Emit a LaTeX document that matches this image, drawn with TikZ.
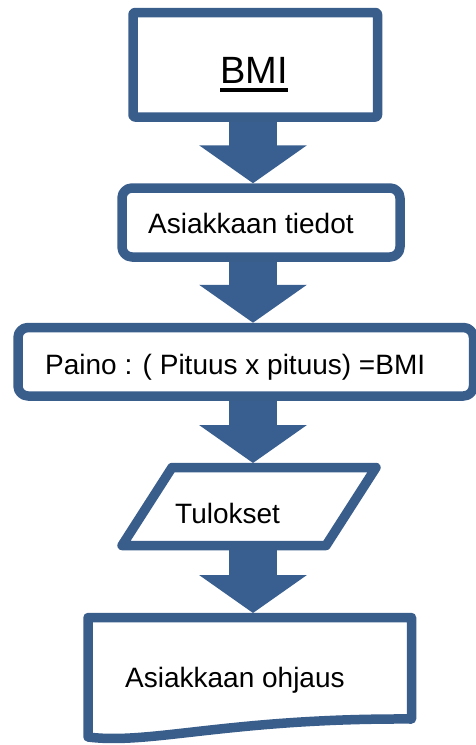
\documentclass[tikz,border=0pt]{standalone}
\usepackage{fontspec}
\setmainfont{Liberation Sans}
\usetikzlibrary{arrows.meta}
\begin{document}
\begin{tikzpicture}[x=1pt,y=-1pt]
\definecolor{flowblue}{RGB}{58,94,140}
\definecolor{arrowblue}{RGB}{57,95,144}
\tikzset{
  flowbox/.style={draw=flowblue, line width=9.5pt, fill=white, line join=round,
    rectangle, inner sep=0pt},
  lbl/.style={font=\fontsize{28}{32}\selectfont, text=black, inner sep=0pt},
  bigarrow/.style={draw=arrowblue, line width=48pt,
    -{Triangle[width=106pt,length=38pt]}}
}
\useasboundingbox (0,0) rectangle (476,745);

% process boxes
\node[flowbox, rounded corners=2pt, minimum width=244.5pt, minimum height=104.5pt]
  (start) at (255.25,64.75) {};
\node[flowbox, rounded corners=10pt, minimum width=278pt, minimum height=69pt]
  (data) at (261,222.5) {};
\node[flowbox, rounded corners=10pt, minimum width=455.5pt, minimum height=68.5pt]
  (calc) at (245.75,361.75) {};

% output parallelogram
\draw[draw=flowblue, line width=9.5pt, fill=white, line join=round]
  (172,467.5) -- (376,467.5) -- (326,545.5) -- (122,545.5) -- cycle;
\coordinate (out-top) at (253,463);
\coordinate (out-bot) at (253,550);

% document shape
\draw[draw=flowblue, line width=9.5pt, fill=white, line join=round]
  (88,617.5) -- (411.5,617.5) -- (411.5,719)
  .. controls (230,718) and (150,745) .. (88,737) -- cycle;
\coordinate (doc-top) at (253,613);

% labels
\node[font=\fontsize{38}{42}\selectfont, inner sep=0pt, anchor=base west]
  (title) at (220,83) {BMI};
\draw[line width=3.5pt] ([yshift=-7pt]title.base west) -- ([yshift=-7pt]title.base east);
\node[lbl, anchor=base west] (datatext) at (148,233) {Asiakkaan tiedot};
\node[lbl, anchor=base west] (calctext) at (45,374) {Paino : ( Pituus x pituus) =BMI};
\node[lbl, anchor=base west] (outtext) at (175,523) {Tulokset};
\node[lbl, anchor=base west] (doctext) at (125,687) {Asiakkaan ohjaus};

% block arrows between steps
\coordinate (ax) at (253,0);
\draw[bigarrow] (ax |- start.south) -- (ax |- data.north);
\draw[bigarrow] (ax |- data.south) -- (ax |- calc.north);
\draw[bigarrow] (ax |- calc.south) -- (out-top);
\draw[bigarrow] (out-bot) -- (doc-top);
\end{tikzpicture}
\end{document}
